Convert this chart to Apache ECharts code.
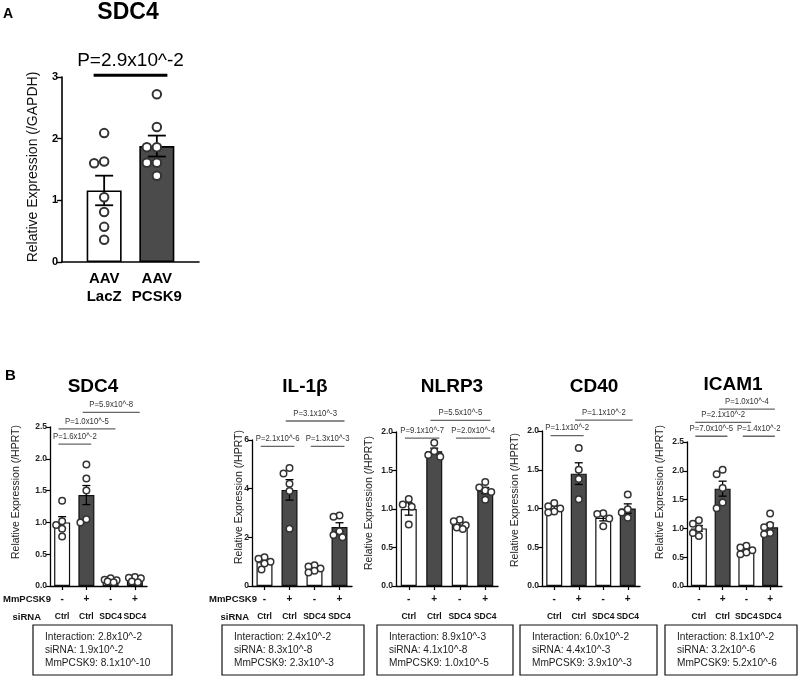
<!DOCTYPE html>
<html>
<head>
<meta charset="utf-8">
<script src="https://cdn.jsdelivr.net/npm/echarts@6/dist/echarts.min.js"></script>
<style>html,body{margin:0;padding:0;background:#fff}#c{width:800px;height:677px}</style>
</head>
<body>
<div id="c"></div>
<script>
// ================= DATA =================
// Panel A
const aCategories = ['AAV\nLacZ', 'AAV\nPCSK9'];
const aMeans = [1.16, 1.88];
const aSems = [0.24, 0.17];
const aPointsLacZ = [2.09, 1.63, 1.60, 1.05, 0.81, 0.57, 0.36];
const aPointsPCSK9 = [2.72, 2.19, 1.86, 1.86, 1.61, 1.61, 1.40];
const aBrackets = [[0, 1, 3.03, 'P=2.9x10^-2']];

// Panel B shared labels
const bTitles = ['SDC4', 'IL-1β', 'NLRP3', 'CD40', 'ICAM1'];
const bPcsk9Labels = ['-', '+', '-', '+'];
const bSirnaLabels = ['Ctrl', 'Ctrl', 'SDC4', 'SDC4'];

// SDC4
const sdc4Means = [1.00, 1.43, 0.09, 0.10];
const sdc4Sems = [0.09, 0.15, 0.01, 0.02];
const sdc4Points = [[1.34, 1.02, 0.96, 0.90, 0.78], [1.91, 1.69, 1.50, 1.05, 1.00], [0.12, 0.10, 0.09, 0.07, 0.06], [0.14, 0.13, 0.12, 0.07, 0.06]];
const sdc4Brackets = [[1, 3, 2.73, 'P=5.9x10^-8'], [0, 2, 2.47, 'P=1.0x10^-5'], [0, 1, 2.23, 'P=1.6x10^-2']];
const sdc4Stats = ['Interaction: 2.8x10^-2', 'siRNA: 1.9x10^-2', 'MmPCSK9: 8.1x10^-10'];

// IL-1β
const il1bMeans = [0.98, 3.95, 0.70, 2.42];
const il1bSems = [0.08, 0.42, 0.05, 0.18];
const il1bPoints = [[1.18, 1.12, 1.00, 0.92, 0.68], [4.85, 4.62, 4.20, 3.90, 2.35], [0.85, 0.80, 0.72, 0.63, 0.55], [2.90, 2.85, 2.25, 2.10, 2.00]];
const il1bBrackets = [[1, 3, 6.78, 'P=3.1x10^-3'], [0, 1, 5.74, 'P=2.1x10^-6'], [2, 3, 5.74, 'P=1.3x10^-3']];
const il1bStats = ['Interaction: 2.4x10^-2', 'siRNA: 8.3x10^-8', 'MmPCSK9: 2.3x10^-3'];

// NLRP3
const nlrp3Means = [1.00, 1.75, 0.80, 1.24];
const nlrp3Sems = [0.08, 0.04, 0.03, 0.04];
const nlrp3Points = [[1.13, 1.06, 1.03, 0.80], [1.86, 1.75, 1.70, 1.68], [0.86, 0.84, 0.79, 0.76, 0.74], [1.35, 1.28, 1.24, 1.22, 1.12]];
const nlrp3Brackets = [[1, 3, 2.15, 'P=5.5x10^-5'], [0, 1, 1.92, 'P=9.1x10^-7'], [2, 3, 1.92, 'P=2.0x10^-4']];
const nlrp3Stats = ['Interaction: 8.9x10^-3', 'siRNA: 4.1x10^-8', 'MmPCSK9: 1.0x10^-5'];

// CD40
const cd40Means = [1.00, 1.45, 0.88, 1.00];
const cd40Sems = [0.03, 0.14, 0.04, 0.06];
const cd40Points = [[1.07, 1.03, 1.00, 0.96, 0.95], [1.78, 1.50, 1.38, 1.12], [0.94, 0.93, 0.87, 0.77], [1.18, 0.99, 0.95, 0.88]];
const cd40Brackets = [[1, 3, 2.14, 'P=1.1x10^-2'], [0, 1, 1.94, 'P=1.1x10^-2']];
const cd40Stats = ['Interaction: 6.0x10^-2', 'siRNA: 4.4x10^-3', 'MmPCSK9: 3.9x10^-3'];

// ICAM1
const icam1Means = [1.00, 1.69, 0.62, 1.02];
const icam1Sems = [0.05, 0.13, 0.03, 0.07];
const icam1Points = [[1.14, 1.08, 1.00, 0.92, 0.87], [2.02, 1.94, 1.70, 1.45, 1.35], [0.70, 0.67, 0.62, 0.58, 0.55], [1.26, 1.06, 1.02, 0.92, 0.90]];
const icam1Brackets = [[1, 3, 3.07, 'P=1.0x10^-4'], [0, 2, 2.84, 'P=2.1x10^-2'], [0, 1, 2.60, 'P=7.0x10^-5'], [2, 3, 2.60, 'P=1.4x10^-2']];
const icam1Stats = ['Interaction: 8.1x10^-2', 'siRNA: 3.2x10^-6', 'MmPCSK9: 5.2x10^-6'];

// ================= LAYOUT / STYLE =================
const FONT = '"Liberation Sans", Arial, Helvetica, sans-serif';
const DARK = '#4b4b4b';
const AXIS_Y0 = 586; // pixel row of B panels' x axes
const bPanels = [
  {means: sdc4Means, sems: sdc4Sems, points: sdc4Points, brackets: sdc4Brackets, stats: sdc4Stats,
   left: 50, top: 427, width: 97, max: 2.5, interval: 0.5, dec: 1, title: [93, 387], yname: [16, 492], box: [33, 172], rowHead: [51, 41]},
  {means: il1bMeans, sems: il1bSems, points: il1bPoints, brackets: il1bBrackets, stats: il1bStats,
   left: 252, top: 440, width: 100, max: 6, interval: 2, dec: 0, title: [305, 387], yname: [239, 497], box: [222, 364], rowHead: [257, 249]},
  {means: nlrp3Means, sems: nlrp3Sems, points: nlrp3Points, brackets: nlrp3Brackets, stats: nlrp3Stats,
   left: 396, top: 432, width: 102, max: 2, interval: 0.5, dec: 1, title: [452, 387], yname: [369, 503], box: [377, 513]},
  {means: cd40Means, sems: cd40Sems, points: cd40Points, brackets: cd40Brackets, stats: cd40Stats,
   left: 542, top: 431, width: 98, max: 2, interval: 0.5, dec: 1, title: [594, 387], yname: [515, 500], box: [520, 657]},
  {means: icam1Means, sems: icam1Sems, points: icam1Points, brackets: icam1Brackets, stats: icam1Stats,
   left: 687, top: 442, width: 95, max: 2.5, interval: 0.5, dec: 1, title: [733, 385], yname: [660, 492], box: [665, 797]}
];

// beeswarm-like horizontal spreading of overlapping points (pixel offsets), derived from the values
function swarm(values, pxPerUnit, minDist, step, maxOff) {
  const order = values.map((v, i) => i).sort((a, b) => values[b] - values[a]);
  const placed = [];
  const offs = new Array(values.length).fill(0);
  const cands = [0];
  for (let s = 1; s * step <= maxOff; s++) cands.push(-s * step, s * step);
  order.forEach(k => {
    const y = values[k] * pxPerUnit;
    let best = null, bestScore = -1;
    for (const c of cands) {
      const d = placed.length ? Math.min(...placed.map(p => Math.hypot(p.x - c, p.y - y))) : Infinity;
      if (d >= minDist) { best = c; break; }
      if (d > bestScore) { bestScore = d; best = c; }
    }
    placed.push({x: best, y: y});
    offs[k] = best;
  });
  return offs;
}

function errorSeries(gi, data, capHalf, lw) {
  return {
    type: 'custom', xAxisIndex: gi, yAxisIndex: gi, z: 3, clip: false, silent: true,
    data: data,
    renderItem: (params, api) => {
      const x = api.value(0), m = api.value(1), s = api.value(2);
      const hi = api.coord([x, m + s]), lo = api.coord([x, m - s]);
      const st = {stroke: '#000', lineWidth: lw};
      return {type: 'group', children: [
        {type: 'line', shape: {x1: hi[0], y1: hi[1], x2: lo[0], y2: lo[1]}, style: st},
        {type: 'line', shape: {x1: hi[0] - capHalf, y1: hi[1], x2: hi[0] + capHalf, y2: hi[1]}, style: st},
        {type: 'line', shape: {x1: lo[0] - capHalf, y1: lo[1], x2: lo[0] + capHalf, y2: lo[1]}, style: st}
      ]};
    }
  };
}

function bracketSeries(gi, brackets, opt) {
  return {
    type: 'custom', xAxisIndex: gi, yAxisIndex: gi, z: 5, clip: false, silent: true,
    data: brackets.map(b => [b[0], b[1], b[2]]),
    renderItem: (params, api) => {
      const b = brackets[params.dataIndex];
      const band = api.size([1, 0])[0];
      const p1 = api.coord([b[0], b[2]]);
      const p2 = api.coord([b[1], b[2]]);
      const x1 = p1[0] - band * opt.padL, x2 = p2[0] + band * opt.padR;
      return {type: 'group', children: [
        {type: 'line', shape: {x1: x1, y1: p1[1], x2: x2, y2: p1[1]}, style: {stroke: opt.color, lineWidth: opt.lw}},
        {type: 'text', x: (x1 + x2) / 2, y: p1[1] - opt.gap, scaleX: opt.sx,
         style: {text: b[3], fill: opt.textColor, font: opt.font, align: 'center', verticalAlign: 'bottom'}}
      ]};
    }
  };
}

const option = {
  animation: false,
  backgroundColor: '#fff',
  textStyle: {fontFamily: FONT},
  grid: [], xAxis: [], yAxis: [], series: [], graphic: []
};

// ---------- Panel A ----------
const aTop = 77, aBottom = 262;
option.grid.push({left: 62, top: aTop, width: 137, height: aBottom - aTop, containLabel: false});
option.xAxis.push({
  gridIndex: 0, type: 'value', min: -0.8, max: 1.8,
  axisLine: {show: true, onZero: false, lineStyle: {color: '#000', width: 1.6}},
  axisTick: {show: false}, splitLine: {show: false},
  axisLabel: {
    customValues: aCategories.map((c, i) => i),
    formatter: v => (Math.abs(v - Math.round(v)) < 1e-6 && aCategories[Math.round(v)] !== undefined) ? aCategories[Math.round(v)] : '',
    fontFamily: FONT, fontWeight: 'bold', fontSize: 15, lineHeight: 18, color: '#000', margin: 8
  }
});
option.yAxis.push({
  gridIndex: 0, type: 'value', min: 0, max: 3, interval: 1,
  axisLine: {show: true, onZero: false, lineStyle: {color: '#000', width: 1.6}},
  axisTick: {show: true, length: 5, lineStyle: {color: '#000', width: 1.4}},
  splitLine: {show: false},
  axisLabel: {fontFamily: FONT, fontWeight: 'bold', fontSize: 11, color: '#000', margin: 4}
});
option.series.push({
  type: 'bar', xAxisIndex: 0, yAxisIndex: 0, barWidth: 35, z: 2,
  data: aMeans.map((m, i) => ({value: [i, m], itemStyle: {color: i % 2 ? DARK : '#fff'}})),
  itemStyle: {borderColor: '#000', borderWidth: 1.6}
});
option.series.push(errorSeries(0, aMeans.map((m, i) => [i, m, aSems[i]]), 9, 1.8));
(function () {
  const pxPerUnit = (aBottom - aTop) / 3;
  const data = [];
  [aPointsLacZ, aPointsPCSK9].forEach((pts, i) => {
    const offs = swarm(pts, pxPerUnit, 9.5, 5, 15);
    pts.forEach((v, k) => data.push({value: [i, v], symbolOffset: [offs[k], 0]}));
  });
  option.series.push({
    type: 'scatter', xAxisIndex: 0, yAxisIndex: 0, z: 4, symbol: 'circle', symbolSize: 8.5,
    itemStyle: {color: '#fff', borderColor: '#333', borderWidth: 2, opacity: 1},
    data: data
  });
})();
option.series.push(bracketSeries(0, aBrackets, {padL: 0.2, padR: 0.2, color: '#000', lw: 3, textColor: '#000', gap: 5, sx: 1, font: '19px ' + FONT}));

option.graphic.push(
  {type: 'text', x: 3, y: 14, style: {text: 'A', font: 'bold 14px ' + FONT, fill: '#000', align: 'left', verticalAlign: 'middle'}},
  {type: 'text', x: 128, y: 13, style: {text: 'SDC4', font: 'bold 23px ' + FONT, fill: '#000', align: 'center', verticalAlign: 'middle'}},
  {type: 'text', x: 33, y: 167, rotation: Math.PI / 2, style: {text: 'Relative Expression (/GAPDH)', font: '14px ' + FONT, fill: '#111', align: 'center', verticalAlign: 'middle'}}
);

// ---------- Panel B ----------
option.graphic.push({type: 'text', x: 5, y: 376, style: {text: 'B', font: 'bold 15px ' + FONT, fill: '#000', align: 'left', verticalAlign: 'middle'}});

bPanels.forEach((p, k) => {
  const gi = k + 1;
  option.grid.push({left: p.left, top: p.top, width: p.width, height: AXIS_Y0 - p.top, containLabel: false});
  option.xAxis.push({
    gridIndex: gi, type: 'category', data: bSirnaLabels.map((s, i) => String(i)),
    axisLine: {show: true, onZero: false, lineStyle: {color: '#000', width: 1.3}},
    axisTick: {show: true, alignWithLabel: true, length: 4, lineStyle: {color: '#000', width: 1.2}},
    splitLine: {show: false},
    axisLabel: {
      interval: 0, margin: 4,
      formatter: (v, i) => '{p|' + bPcsk9Labels[i] + '}\n{s|' + bSirnaLabels[i] + '}',
      rich: {
        p: {fontFamily: FONT, fontWeight: 'bold', fontSize: 10, lineHeight: 18, color: '#111'},
        s: {fontFamily: FONT, fontWeight: 'bold', fontSize: 8.5, lineHeight: 18, color: '#111'}
      }
    }
  });
  option.yAxis.push({
    gridIndex: gi, type: 'value', min: 0, max: p.max, interval: p.interval,
    axisLine: {show: true, onZero: false, lineStyle: {color: '#000', width: 1.3}},
    axisTick: {show: true, length: 4, lineStyle: {color: '#000', width: 1.2}},
    splitLine: {show: false},
    axisLabel: {formatter: v => v.toFixed(p.dec), fontFamily: FONT, fontWeight: 'bold', fontSize: 8.5, color: '#222', margin: 3}
  });
  option.series.push({
    type: 'bar', xAxisIndex: gi, yAxisIndex: gi, barWidth: 16, z: 2,
    data: p.means.map((m, i) => ({value: m, itemStyle: {color: i % 2 ? DARK : '#fff'}})),
    itemStyle: {borderColor: '#111', borderWidth: 1.2}
  });
  option.series.push(errorSeries(gi, p.means.map((m, i) => [i, m, p.sems[i]]), 4, 1.3));
  const pxPerUnit = (AXIS_Y0 - p.top) / p.max;
  const data = [];
  p.points.forEach((pts, i) => {
    const offs = swarm(pts, pxPerUnit, 6.5, 3, 8);
    pts.forEach((v, j) => data.push({value: [i, v], symbolOffset: [offs[j], 0]}));
  });
  option.series.push({
    type: 'scatter', xAxisIndex: gi, yAxisIndex: gi, z: 4, symbol: 'circle', symbolSize: 6.5,
    itemStyle: {color: '#fff', borderColor: '#333', borderWidth: 1.5, opacity: 1},
    data: data
  });
  option.series.push(bracketSeries(gi, p.brackets, {padL: 0.15, padR: 0.2, color: '#666', lw: 1.3, textColor: '#333', gap: 3, sx: 0.82, font: '9.5px ' + FONT}));

  // title, axis name
  option.graphic.push(
    {type: 'text', x: p.title[0], y: p.title[1], style: {text: bTitles[k], font: 'bold 19px ' + FONT, fill: '#000', align: 'center', verticalAlign: 'middle'}},
    {type: 'text', x: p.yname[0], y: p.yname[1], rotation: Math.PI / 2, style: {text: 'Relative Expression (/HPRT)', font: '10.5px ' + FONT, fill: '#222', align: 'center', verticalAlign: 'middle'}}
  );
  if (p.rowHead) {
    option.graphic.push(
      {type: 'text', x: p.rowHead[0], y: 599, style: {text: 'MmPCSK9', font: 'bold 9.5px ' + FONT, fill: '#111', align: 'right', verticalAlign: 'middle'}},
      {type: 'text', x: p.rowHead[1], y: 617, style: {text: 'siRNA', font: 'bold 9.5px ' + FONT, fill: '#111', align: 'right', verticalAlign: 'middle'}}
    );
  }
  // stats box
  option.graphic.push({type: 'rect', shape: {x: p.box[0], y: 625, width: p.box[1] - p.box[0], height: 50},
    style: {fill: 'none', stroke: '#111', lineWidth: 1.2}});
  p.stats.forEach((line, j) => {
    option.graphic.push({type: 'text', x: p.box[0] + 12, y: 637 + j * 13, scaleX: 0.88,
      style: {text: line, font: '11.5px ' + FONT, fill: '#222', align: 'left', verticalAlign: 'middle'}});
  });
});

const chart = echarts.init(document.getElementById('c'), null, {renderer: 'canvas'});
chart.setOption(option);
</script>
</body>
</html>
